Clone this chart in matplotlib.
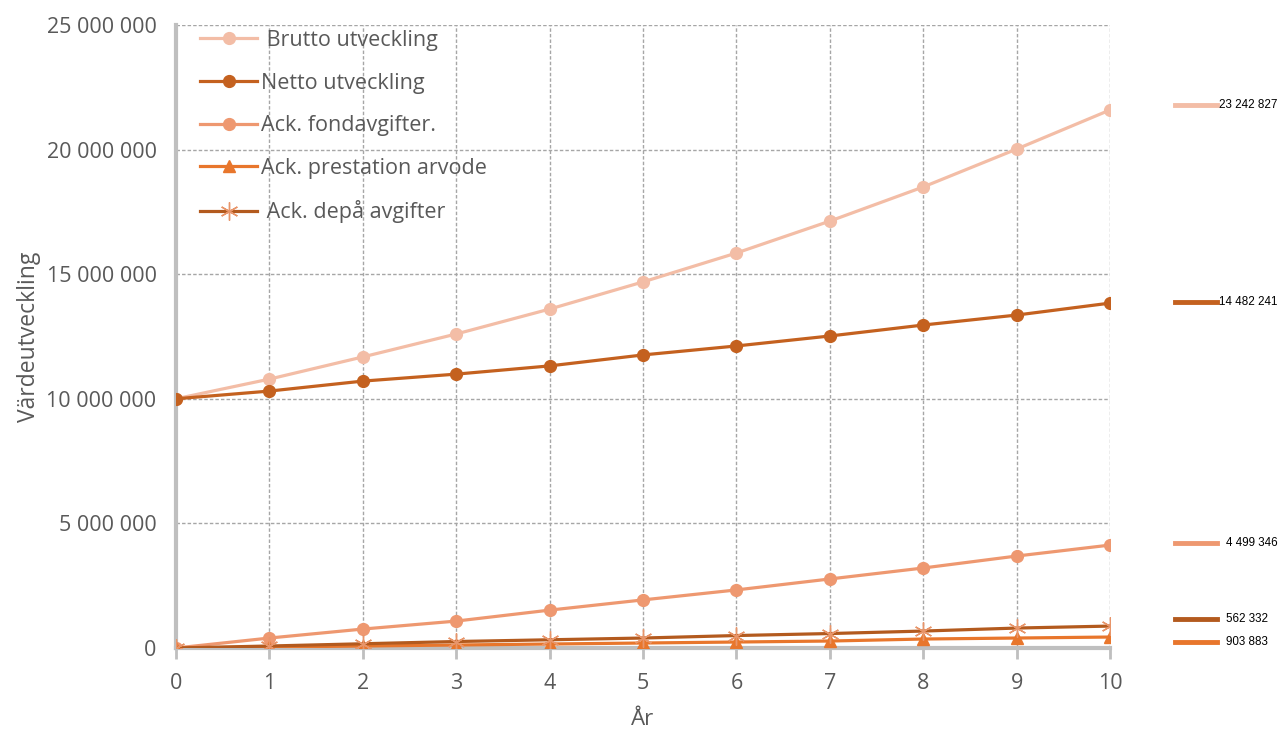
import matplotlib
matplotlib.use("Agg")
import matplotlib.pyplot as plt
from matplotlib.ticker import FuncFormatter, MultipleLocator
from matplotlib.lines import Line2D

years = list(range(0, 11))
brutto = [10.0e6, 10.79e6, 11.68e6, 12.60e6, 13.60e6, 14.69e6, 15.85e6, 17.13e6, 18.50e6, 20.02e6, 21.59e6]
netto = [10.0e6, 10.31e6, 10.71e6, 10.99e6, 11.32e6, 11.76e6, 12.12e6, 12.52e6, 12.96e6, 13.36e6, 13.84e6]
fondavg = [0, 0.40e6, 0.76e6, 1.08e6, 1.52e6, 1.93e6, 2.33e6, 2.77e6, 3.21e6, 3.69e6, 4.13e6]
prestation = [0, 0.04e6, 0.08e6, 0.12e6, 0.16e6, 0.20e6, 0.24e6, 0.28e6, 0.36e6, 0.40e6, 0.44e6]
depa = [0, 0.08e6, 0.17e6, 0.26e6, 0.33e6, 0.40e6, 0.50e6, 0.58e6, 0.68e6, 0.80e6, 0.88e6]

series_names = [" Brutto utveckling", "Netto utveckling", "Ack. fondavgifter.",
                "Ack. prestation arvode", " Ack. depå avgifter"]
end_labels = ["23 242 827", "14 482 241", "4 499 346", "903 883", "562 332"]

c_brutto = "#F3BDA6"
c_netto = "#C4611F"
c_fond = "#EE9870"
c_prest = "#E8762C"
c_depa = "#B35A1E"
grey = "#595959"

plt.rcParams['font.family'] = ['Open Sans', 'DejaVu Sans']

fig = plt.figure(figsize=(12.78, 7.33), dpi=100)
ax = fig.add_axes([176/1278, 1-648/733, (1110-176)/1278, (648-25)/733])

lw = 2.3
ax.plot(years, brutto, color=c_brutto, lw=lw, marker='o', ms=8.5, label=series_names[0], zorder=5)
ax.plot(years, netto, color=c_netto, lw=lw, marker='o', ms=8.5, label=series_names[1], zorder=5)
ax.plot(years, fondavg, color=c_fond, lw=lw, marker='o', ms=8.5, label=series_names[2], zorder=5)
ax.plot(years, prestation, color=c_prest, lw=lw, marker='^', ms=9, label=series_names[3], zorder=5)
ax.plot(years, depa, color=c_depa, lw=lw, marker=(6, 2, 0), ms=13, mec="#E8956A", mew=1.0, label=series_names[4], zorder=5)

ax.set_xlim(0, 10)
ax.set_ylim(0, 25e6)
ax.xaxis.set_major_locator(MultipleLocator(1))
ax.yaxis.set_major_locator(MultipleLocator(5e6))
ax.yaxis.set_major_formatter(FuncFormatter(lambda v, p: f"{int(v):,}".replace(",", " ")))

ax.grid(True, color="#A6A6A6", linestyle=(0, (2.5, 1.5)), lw=1.0)
for s in ["top", "right"]:
    ax.spines[s].set_visible(False)
for s in ["left", "bottom"]:
    ax.spines[s].set_color("#BFBFBF")
    ax.spines[s].set_linewidth(3)
ax.tick_params(axis='y', length=0, labelsize=15.5, labelcolor=grey, pad=14)
ax.tick_params(axis='x', length=8, width=2, color="#BFBFBF", labelsize=15.5, labelcolor=grey, pad=10, direction='out')
ax.set_ylabel("Värdeutveckling", fontsize=16.5, color=grey, labelpad=4)
ax.set_xlabel("År", fontsize=16, color=grey, labelpad=11)
ax.set_axisbelow(True)

leg = ax.legend(loc='upper left', bbox_to_anchor=(24/934, 0.992), frameon=False, fontsize=15.5,
                labelcolor=grey, labelspacing=1.0, handlelength=2.65, handletextpad=0.2,
                borderaxespad=0.0, borderpad=0.0)

# right-side annotation lines and labels
ann_cols = [c_brutto, c_netto, c_fond, c_depa, c_prest]
ann_texts = [end_labels[0], end_labels[1], end_labels[2], end_labels[4], end_labels[3]]
ann_y = [105, 302, 543, 619, 642]
for yy, col, txt in zip(ann_y, ann_cols, ann_texts):
    yf = 1 - yy/733
    fig.add_artist(Line2D([1175/1278, 1217/1278], [yf, yf], color=col, lw=3.5, transform=fig.transFigure))
    fig.text(1219/1278 if txt[0] in "12" else 1226/1278, yf, txt, fontsize=8.4, color="black",
             va='center', ha='left', family=['Liberation Sans', 'DejaVu Sans'])

fig.savefig("out.png", dpi=100)
